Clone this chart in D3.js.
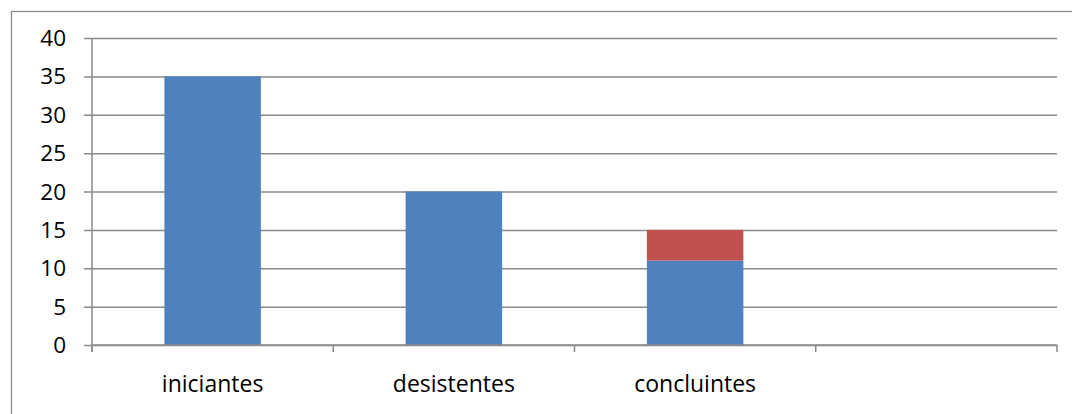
<!DOCTYPE html>
<html>
<head>
<meta charset="utf-8">
<script src="https://cdn.jsdelivr.net/npm/d3@7"></script>
<style>
  html, body { margin: 0; padding: 0; background: #fff; }
  svg { display: block; }
  text { font-family: "Open Sans", "Noto Sans", sans-serif; fill: #000; }
</style>
</head>
<body>
<script>
// Categories along the x axis (the fourth slot is left empty)
const categories = ["iniciantes", "desistentes", "concluintes", ""];
// Stacked series values per category
const seriesBlue = [35, 20, 11, 0];
const seriesRed  = [0, 0, 4, 0];
const yTicks = [0, 5, 10, 15, 20, 25, 30, 35, 40];

const W = 1072, H = 414;
const plot = { left: 92, right: 1057, top: 38, bottom: 345 };

const svg = d3.select("body").append("svg")
  .attr("width", W).attr("height", H);

// Outer chart frame
svg.append("rect")
  .attr("x", 11.5).attr("y", 11.5)
  .attr("width", W + 20).attr("height", H + 20)
  .attr("fill", "none").attr("stroke", "#8c8c8c").attr("stroke-width", 1.3);

const x = d3.scaleBand()
  .domain(d3.range(categories.length))
  .range([plot.left, plot.right])
  .paddingInner(0).paddingOuter(0);

const y = d3.scaleLinear().domain([0, 40]).range([plot.bottom, plot.top]);

// Horizontal gridlines with left tick marks
const yAxis = d3.axisLeft(y).tickValues(yTicks)
  .tickSize(-(plot.right - plot.left)).tickPadding(0).tickFormat("");
const gy = svg.append("g").attr("transform", `translate(${plot.left},0)`).call(yAxis);
gy.select(".domain").remove();
gy.selectAll(".tick line")
  .attr("x1", -8)
  .attr("stroke", "#8a8a8a").attr("stroke-width", 1.5);

// Y tick labels
svg.append("g").selectAll("text").data(yTicks).join("text")
  .attr("x", 66).attr("y", d => y(d))
  .attr("dy", "0.36em")
  .attr("text-anchor", "end")
  .attr("font-size", 22.5)
  .text(d => d);

// Stacked bars
const stackData = categories.map((c, i) => ({ i, blue: seriesBlue[i], red: seriesRed[i] }));
const stacked = d3.stack().keys(["blue", "red"])(stackData);
const colors = { blue: "#4F81BD", red: "#C0504D" };
const barW = x.bandwidth() * 0.4;

svg.append("g").selectAll("g").data(stacked).join("g")
  .attr("fill", s => colors[s.key])
  .selectAll("rect").data(s => s.filter(d => d[1] - d[0] > 0)).join("rect")
  .attr("x", d => x(d.data.i) + (x.bandwidth() - barW) / 2)
  .attr("width", barW)
  .attr("y", d => y(d[1]))
  .attr("height", d => y(d[0]) - y(d[1]));

// Vertical axis line
svg.append("line")
  .attr("x1", plot.left).attr("x2", plot.left)
  .attr("y1", plot.top).attr("y2", plot.bottom + 7)
  .attr("stroke", "#8a8a8a").attr("stroke-width", 1.5);

// Category axis
const xAxis = d3.axisBottom(x).tickFormat("").tickSize(0);
const gx = svg.append("g").attr("transform", `translate(0,${plot.bottom})`).call(xAxis);
gx.selectAll(".tick").remove();
gx.select(".domain").remove();
gx.append("line")
  .attr("x1", plot.left).attr("x2", plot.right)
  .attr("stroke", "#8a8a8a").attr("stroke-width", 1.5);
gx.selectAll("line.cat").data(d3.range(categories.length + 1)).join("line")
  .attr("class", "cat")
  .attr("x1", i => plot.left + i * x.step()).attr("x2", i => plot.left + i * x.step())
  .attr("y1", 0).attr("y2", 7)
  .attr("stroke", "#8a8a8a").attr("stroke-width", 1.5);

// Category labels
svg.append("g").selectAll("text").data(categories).join("text")
  .attr("x", (d, i) => x(i) + x.bandwidth() / 2)
  .attr("y", 392)
  .attr("text-anchor", "middle")
  .attr("font-size", 23)
  .text(d => d);
</script>
</body>
</html>
